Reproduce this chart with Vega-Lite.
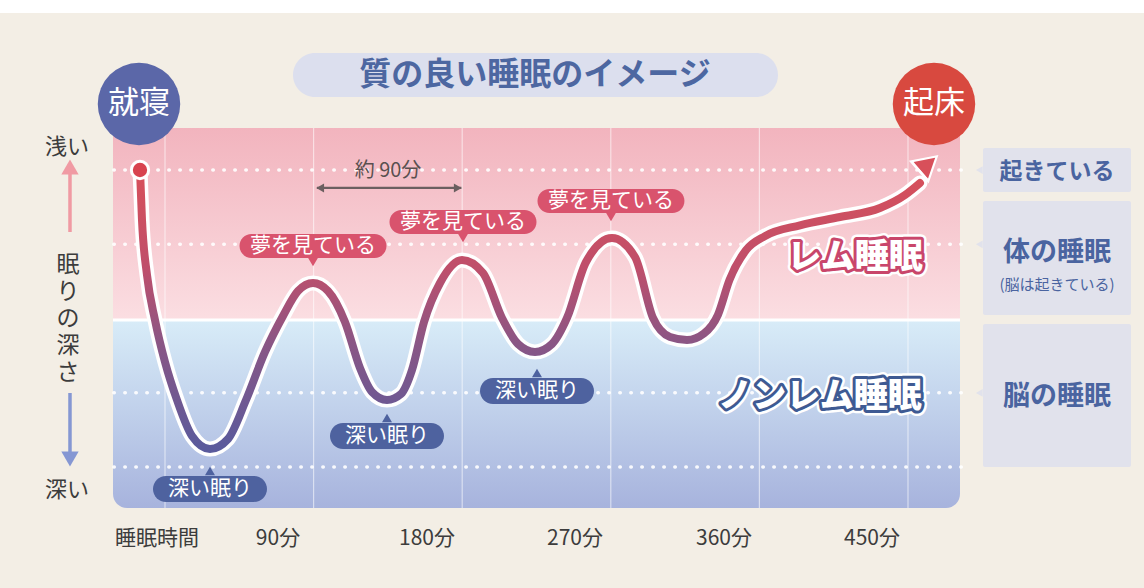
{
  "$schema": "https://vega.github.io/schema/vega-lite/v6.json",
  "width": 1144,
  "height": 588,
  "padding": 0,
  "autosize": {"type": "fit", "contains": "padding"},
  "background": "#f3eee5",
  "config": {"view": {"stroke": null}, "text": {"font": "Noto Sans CJK JP"}},
  "datasets": {
    "topband": [{"x": -99.93, "x2": 592.94, "y": -2.2896, "y2": -2.114}],
    "pinkArea": [{"x": -31.49, "x2": 481.5, "y": -0.566, "y2": 2.02}],
    "blueArea": [{"x": -31.49, "x2": 481.5, "y": 2.02, "y2": 4.552}],
    "grid": [
      {"x": 0, "y": -0.566, "y2": 4.552},
      {"x": 90, "y": -0.566, "y2": 4.552},
      {"x": 180, "y": -0.566, "y2": 4.552},
      {"x": 270, "y": -0.566, "y2": 4.552},
      {"x": 360, "y": -0.566, "y2": 4.552},
      {"x": 450, "y": -0.566, "y2": 4.552}
    ],
    "boundary": [{"x": -31.49, "x2": 481.5, "y": 2.02}],
    "levels": [
      {"level": "起きている", "x": -31.0, "x2": 486.0, "y": 0},
      {"level": "体の睡眠", "x": -31.0, "x2": 486.0, "y": 1},
      {"level": "脳の睡眠", "x": -31.0, "x2": 486.0, "y": 3},
      {"level": "深い", "x": -31.0, "x2": 486.0, "y": 4}
    ],
    "boxes": [
      {"x": 495.43, "x2": 585.06, "y": -0.296, "y2": 0.296},
      {"x": 495.43, "x2": 585.06, "y": 0.418, "y2": 1.953},
      {"x": 495.43, "x2": 585.06, "y": 2.074, "y2": 4.0}
    ],
    "boxPointers": [
      {"x": 493.2, "y": 0},
      {"x": 493.2, "y": 1},
      {"x": 493.2, "y": 3.003}
    ],
    "boxSmall": [{"t": "起きている", "x": 540.25, "y": 0.027}],
    "boxBig": [
      {"t": "体の睡眠", "x": 540.25, "y": 1.118},
      {"t": "脳の睡眠", "x": 540.25, "y": 3.057}
    ],
    "boxSub": [{"t": "(脳は起きている)", "x": 540.25, "y": 1.549}],
    "titlePill": [{"x": 77.52, "x2": 371.27, "y": -1.576, "y2": -0.983}],
    "titleText": [{"t": "質の良い睡眠のイメージ", "x": 224.09, "y": -1.279}],
    "bedtime": [{"t": "就寝", "x": -15.75, "y": -0.889}],
    "wakeup": [{"t": "起床", "x": 465.75, "y": -0.889}],
    "curve": [
      {"x": -15.14, "y": 0},
      {"x": -13.93, "y": 0.673},
      {"x": -10.9, "y": 1.414},
      {"x": -6.06, "y": 2.02},
      {"x": 0, "y": 2.586},
      {"x": 7.27, "y": 3.098},
      {"x": 16.35, "y": 3.582},
      {"x": 27.25, "y": 3.758},
      {"x": 38.16, "y": 3.623},
      {"x": 49.06, "y": 3.098},
      {"x": 60.57, "y": 2.451},
      {"x": 71.47, "y": 1.966},
      {"x": 80.55, "y": 1.63},
      {"x": 89.64, "y": 1.522},
      {"x": 98.72, "y": 1.63},
      {"x": 109.02, "y": 2.047},
      {"x": 118.1, "y": 2.667},
      {"x": 125.37, "y": 2.99},
      {"x": 134.46, "y": 3.098},
      {"x": 142.93, "y": 3.017},
      {"x": 149.6, "y": 2.694},
      {"x": 156.87, "y": 2.047},
      {"x": 166.56, "y": 1.522},
      {"x": 179.88, "y": 1.212},
      {"x": 192.6, "y": 1.387},
      {"x": 204.11, "y": 1.993},
      {"x": 213.8, "y": 2.343},
      {"x": 224.09, "y": 2.451},
      {"x": 234.39, "y": 2.343},
      {"x": 243.47, "y": 1.993},
      {"x": 254.98, "y": 1.239},
      {"x": 270.73, "y": 0.916},
      {"x": 284.66, "y": 1.172},
      {"x": 295.56, "y": 1.993},
      {"x": 305.9, "y": 2.25},
      {"x": 316.15, "y": 2.29},
      {"x": 326.5, "y": 2.2},
      {"x": 334.9, "y": 1.95},
      {"x": 341.9, "y": 1.48},
      {"x": 351.9, "y": 1.08},
      {"x": 363.4, "y": 0.89},
      {"x": 384.59, "y": 0.745},
      {"x": 408.82, "y": 0.633},
      {"x": 433.04, "y": 0.512},
      {"x": 448.19, "y": 0.337},
      {"x": 457.27, "y": 0.175}
    ],
    "arrowHead": [{"x": 462.12, "y": -0.081}],
    "startDot": [{"x": -15.14, "y": 0}],
    "dreamPills": [
      {"x": 45.12, "x2": 134.15, "y": 0.862, "y2": 1.185},
      {"x": 135.97, "x2": 225.0, "y": 0.539, "y2": 0.862},
      {"x": 225.6, "x2": 314.6, "y": 0.256, "y2": 0.579}
    ],
    "dreamPointers": [
      {"x": 89.64, "y": 1.239},
      {"x": 180.49, "y": 0.916},
      {"x": 270.12, "y": 0.633}
    ],
    "dreamText": [
      {"t": "夢を見ている", "x": 89.64, "y": 1.024},
      {"t": "夢を見ている", "x": 180.49, "y": 0.7},
      {"t": "夢を見ている", "x": 270.12, "y": 0.418}
    ],
    "deepPills": [
      {"x": -7.27, "x2": 61.78, "y": 4.121, "y2": 4.471},
      {"x": 99.93, "x2": 168.98, "y": 3.407, "y2": 3.758},
      {"x": 190.78, "x2": 259.83, "y": 2.801, "y2": 3.152}
    ],
    "deepPointers": [
      {"x": 27.25, "y": 4.054},
      {"x": 134.46, "y": 3.34},
      {"x": 225.3, "y": 2.734}
    ],
    "deepText": [
      {"t": "深い眠り", "x": 27.25, "y": 4.296},
      {"t": "深い眠り", "x": 134.46, "y": 3.582},
      {"t": "深い眠り", "x": 225.3, "y": 2.976}
    ],
    "cycleRule": [{"x": 92.0, "x2": 179.5, "y": 0.242}],
    "cycleLeft": [{"x": 94.0, "y": 0.242}],
    "cycleRight": [{"x": 177.3, "y": 0.242}],
    "cycleText": [{"t": "約 90分", "x": 135.06, "y": 0.02}],
    "remText": [{"t": "レム睡眠", "x": 417.9, "y": 1.185}],
    "nremText": [{"t": "ノンレム睡眠", "x": 396.7, "y": 3.057}],
    "upShaft": [{"x": -57.54, "y": 0.835, "y2": -0.02}],
    "upHead": [{"x": -57.54, "y": -0.04}],
    "downShaft": [{"x": -57.54, "y": 3.003, "y2": 3.86}],
    "downHead": [{"x": -57.54, "y": 3.892}],
    "leftLabels": [
      {"t": "浅い", "x": -59.35, "y": -0.31},
      {"t": "深い", "x": -59.35, "y": 4.31}
    ],
    "verticalTitle": [
      {"t": ["眠", "り", "の", "深", "さ"], "x": -58.75, "y": 1.279}
    ],
    "xLabels": [
      {"t": "睡眠時間", "x": -4.85, "y": 4.97},
      {"t": "90分", "x": 68.44, "y": 4.97},
      {"t": "180分", "x": 158.68, "y": 4.97},
      {"t": "270分", "x": 248.32, "y": 4.97},
      {"t": "360分", "x": 338.56, "y": 4.97},
      {"t": "450分", "x": 428.2, "y": 4.97}
    ]
  },
  "encoding": {
    "x": {"field": "x", "type": "quantitative", "scale": {"domain": [-99.93, 592.94], "nice": false, "zero": false}, "axis": null},
    "y": {"field": "y", "type": "quantitative", "scale": {"domain": [-2.2896, 5.6296], "nice": false, "zero": false, "reverse": true}, "axis": null}
  },
  "layer": [
    {"data": {"name": "topband"}, "mark": {"type": "rect", "color": "#ffffff"},
     "encoding": {"x2": {"field": "x2"}, "y2": {"field": "y2"}}},
    {"data": {"name": "pinkArea"},
     "mark": {"type": "rect", "fill": {"gradient": "linear", "x1": 0, "y1": 0, "x2": 0, "y2": 1, "stops": [{"offset": 0, "color": "#f2b4be"}, {"offset": 1, "color": "#fbdee2"}]}},
     "encoding": {"x2": {"field": "x2"}, "y2": {"field": "y2"}}},
    {"data": {"name": "blueArea"},
     "mark": {"type": "rect", "cornerRadiusBottomLeft": 14, "cornerRadiusBottomRight": 14,
              "fill": {"gradient": "linear", "x1": 0, "y1": 0, "x2": 0, "y2": 1, "stops": [{"offset": 0, "color": "#d8ecf8"}, {"offset": 1, "color": "#a7b3dd"}]}},
     "encoding": {"x2": {"field": "x2"}, "y2": {"field": "y2"}}},
    {"data": {"name": "grid"}, "mark": {"type": "rule", "color": "#ffffff", "opacity": 0.55, "strokeWidth": 1.2},
     "encoding": {"y2": {"field": "y2"}}},
    {"data": {"name": "boundary"}, "mark": {"type": "rule", "color": "#ffffff", "strokeWidth": 3},
     "encoding": {"x2": {"field": "x2"}}},
    {"data": {"name": "levels"}, "mark": {"type": "rule", "color": "#ffffff", "opacity": 0.9, "strokeWidth": 3.5, "strokeDash": [0.5, 10.5], "strokeCap": "round"},
     "encoding": {"x2": {"field": "x2"}}},
    {"data": {"name": "boxes"}, "mark": {"type": "rect", "color": "#e1e2ec", "cornerRadius": 2},
     "encoding": {"x2": {"field": "x2"}, "y2": {"field": "y2"}}},
    {"data": {"name": "boxPointers"}, "mark": {"type": "point", "shape": "triangle-left", "filled": true, "color": "#e1e2ec", "size": 60, "opacity": 1},
     "encoding": {}},
    {"data": {"name": "boxSmall"}, "mark": {"type": "text", "color": "#4a64a0", "fontSize": 23, "fontWeight": "bold", "baseline": "middle"},
     "encoding": {"text": {"field": "t", "type": "nominal"}}},
    {"data": {"name": "boxBig"}, "mark": {"type": "text", "color": "#4a64a0", "fontSize": 27, "fontWeight": "bold", "baseline": "middle"},
     "encoding": {"text": {"field": "t", "type": "nominal"}}},
    {"data": {"name": "boxSub"}, "mark": {"type": "text", "color": "#4a64a0", "fontSize": 15, "baseline": "middle"},
     "encoding": {"text": {"field": "t", "type": "nominal"}}},
    {"data": {"name": "titlePill"}, "mark": {"type": "rect", "color": "#dcdfee", "cornerRadius": 22},
     "encoding": {"x2": {"field": "x2"}, "y2": {"field": "y2"}}},
    {"data": {"name": "titleText"}, "mark": {"type": "text", "color": "#4d67a1", "fontSize": 32, "fontWeight": "bold", "baseline": "middle"},
     "encoding": {"text": {"field": "t", "type": "nominal"}}},
    {"data": {"name": "bedtime"}, "mark": {"type": "point", "shape": "circle", "filled": true, "color": "#5b67a8", "opacity": 1, "size": 6800},
     "encoding": {}},
    {"data": {"name": "wakeup"}, "mark": {"type": "point", "shape": "circle", "filled": true, "color": "#d8493f", "opacity": 1, "size": 6800},
     "encoding": {}},
    {"data": {"name": "bedtime"}, "mark": {"type": "text", "color": "#ffffff", "fontSize": 31, "baseline": "middle"},
     "encoding": {"text": {"field": "t", "type": "nominal"}}},
    {"data": {"name": "wakeup"}, "mark": {"type": "text", "color": "#ffffff", "fontSize": 31, "baseline": "middle"},
     "encoding": {"text": {"field": "t", "type": "nominal"}}},
    {"data": {"name": "curve"}, "mark": {"type": "line", "interpolate": "monotone", "color": "#ffffff", "strokeWidth": 15, "strokeCap": "round"},
     "encoding": {}},
    {"data": {"name": "arrowHead"}, "mark": {"type": "point", "shape": "triangle-up", "filled": true, "color": "#d8505a", "opacity": 1, "size": 620, "angle": 49, "stroke": "#ffffff", "strokeWidth": 3},
     "encoding": {}},
    {"data": {"name": "curve"}, "mark": {"type": "line", "interpolate": "monotone", "strokeWidth": 8, "strokeCap": "round",
       "stroke": {"gradient": "linear", "x1": 0, "y1": 0, "x2": 0, "y2": 1, "stops": [{"offset": 0, "color": "#d8505a"}, {"offset": 0.35, "color": "#bf4f6b"}, {"offset": 0.62, "color": "#8a5685"}, {"offset": 1, "color": "#5a5a9c"}]}},
     "encoding": {}},
    {"data": {"name": "arrowHead"}, "mark": {"type": "point", "shape": "triangle-up", "filled": true, "color": "#d8505a", "opacity": 1, "size": 480, "angle": 49},
     "encoding": {}},
    {"data": {"name": "startDot"}, "mark": {"type": "point", "shape": "circle", "filled": true, "color": "#d8434f", "opacity": 1, "size": 300, "stroke": "#ffffff", "strokeWidth": 3},
     "encoding": {}},
    {"data": {"name": "dreamPills"}, "mark": {"type": "rect", "color": "#d9536d", "cornerRadius": 12},
     "encoding": {"x2": {"field": "x2"}, "y2": {"field": "y2"}}},
    {"data": {"name": "dreamPointers"}, "mark": {"type": "point", "shape": "triangle-down", "filled": true, "color": "#d9536d", "opacity": 1, "size": 100},
     "encoding": {}},
    {"data": {"name": "dreamText"}, "mark": {"type": "text", "color": "#ffffff", "fontSize": 21, "baseline": "middle"},
     "encoding": {"text": {"field": "t", "type": "nominal"}}},
    {"data": {"name": "deepPills"}, "mark": {"type": "rect", "color": "#4e629f", "cornerRadius": 13},
     "encoding": {"x2": {"field": "x2"}, "y2": {"field": "y2"}}},
    {"data": {"name": "deepPointers"}, "mark": {"type": "point", "shape": "triangle-up", "filled": true, "color": "#4e629f", "opacity": 1, "size": 100},
     "encoding": {}},
    {"data": {"name": "deepText"}, "mark": {"type": "text", "color": "#ffffff", "fontSize": 21, "baseline": "middle"},
     "encoding": {"text": {"field": "t", "type": "nominal"}}},
    {"data": {"name": "cycleRule"}, "mark": {"type": "rule", "color": "#6b5f60", "strokeWidth": 2.2},
     "encoding": {"x2": {"field": "x2"}}},
    {"data": {"name": "cycleLeft"}, "mark": {"type": "point", "shape": "triangle-left", "filled": true, "color": "#6b5f60", "opacity": 1, "size": 80},
     "encoding": {}},
    {"data": {"name": "cycleRight"}, "mark": {"type": "point", "shape": "triangle-right", "filled": true, "color": "#6b5f60", "opacity": 1, "size": 80},
     "encoding": {}},
    {"data": {"name": "cycleText"}, "mark": {"type": "text", "color": "#5a5050", "fontSize": 20, "baseline": "middle"},
     "encoding": {"text": {"field": "t", "type": "nominal"}}},
    {"data": {"name": "remText"}, "mark": {"type": "text", "color": "#ffffff", "stroke": "#ffffff", "strokeWidth": 11, "strokeJoin": "round", "fontSize": 34, "fontWeight": 900, "baseline": "middle"},
     "encoding": {"text": {"field": "t", "type": "nominal"}}},
    {"data": {"name": "remText"}, "mark": {"type": "text", "color": "#c9466b", "stroke": "#c9466b", "strokeWidth": 6, "strokeJoin": "round", "fontSize": 34, "fontWeight": 900, "baseline": "middle"},
     "encoding": {"text": {"field": "t", "type": "nominal"}}},
    {"data": {"name": "remText"}, "mark": {"type": "text", "color": "#ffffff", "fontSize": 34, "fontWeight": 900, "baseline": "middle"},
     "encoding": {"text": {"field": "t", "type": "nominal"}}},
    {"data": {"name": "nremText"}, "mark": {"type": "text", "color": "#ffffff", "stroke": "#ffffff", "strokeWidth": 11, "strokeJoin": "round", "fontSize": 34, "fontWeight": 900, "baseline": "middle"},
     "encoding": {"text": {"field": "t", "type": "nominal"}}},
    {"data": {"name": "nremText"}, "mark": {"type": "text", "color": "#3e5a93", "stroke": "#3e5a93", "strokeWidth": 6, "strokeJoin": "round", "fontSize": 34, "fontWeight": 900, "baseline": "middle"},
     "encoding": {"text": {"field": "t", "type": "nominal"}}},
    {"data": {"name": "nremText"}, "mark": {"type": "text", "color": "#ffffff", "fontSize": 34, "fontWeight": 900, "baseline": "middle"},
     "encoding": {"text": {"field": "t", "type": "nominal"}}},
    {"data": {"name": "upShaft"}, "mark": {"type": "rule", "color": "#f09aa3", "strokeWidth": 3.5},
     "encoding": {"y2": {"field": "y2"}}},
    {"data": {"name": "upHead"}, "mark": {"type": "point", "shape": "triangle-up", "filled": true, "color": "#f09aa3", "opacity": 1, "size": 300},
     "encoding": {}},
    {"data": {"name": "downShaft"}, "mark": {"type": "rule", "color": "#8597d3", "strokeWidth": 3.5},
     "encoding": {"y2": {"field": "y2"}}},
    {"data": {"name": "downHead"}, "mark": {"type": "point", "shape": "triangle-down", "filled": true, "color": "#8597d3", "opacity": 1, "size": 300},
     "encoding": {}},
    {"data": {"name": "leftLabels"}, "mark": {"type": "text", "color": "#3c3c3c", "fontSize": 22, "baseline": "middle"},
     "encoding": {"text": {"field": "t", "type": "nominal"}}},
    {"data": {"name": "verticalTitle"}, "mark": {"type": "text", "color": "#3c3c3c", "fontSize": 23, "lineHeight": 27, "baseline": "middle"},
     "encoding": {"text": {"field": "t", "type": "nominal"}}},
    {"data": {"name": "xLabels"}, "mark": {"type": "text", "color": "#3c3c3c", "fontSize": 21, "baseline": "middle"},
     "encoding": {"text": {"field": "t", "type": "nominal"}}}
  ]
}
